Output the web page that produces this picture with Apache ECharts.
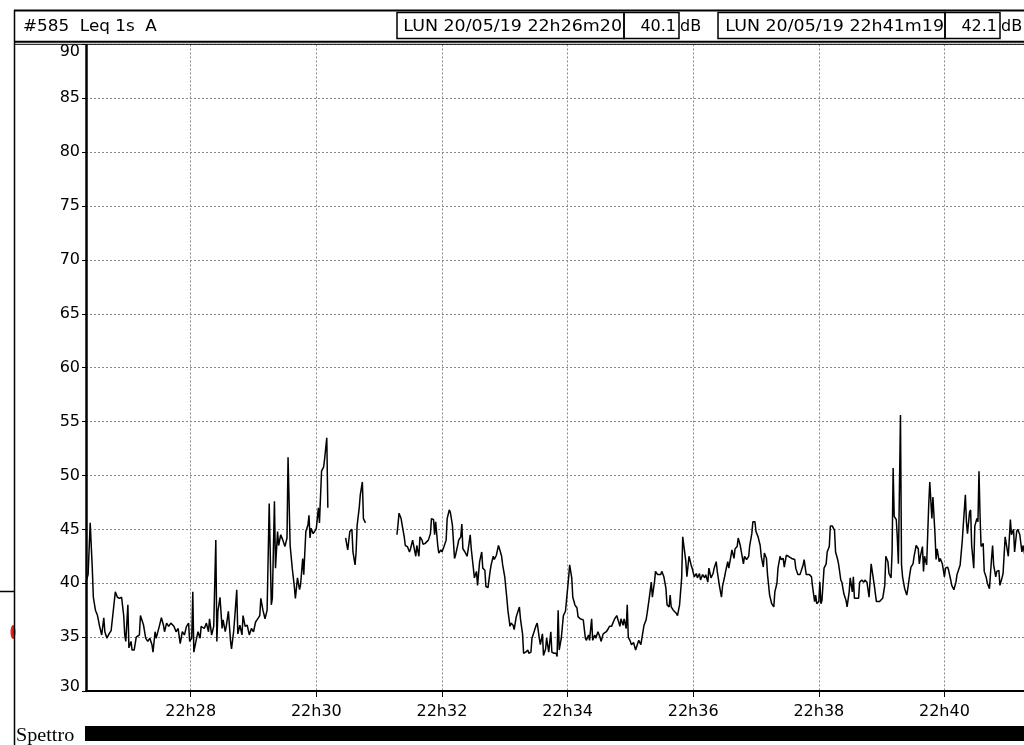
<!DOCTYPE html>
<html>
<head>
<meta charset="utf-8">
<script src="https://cdn.jsdelivr.net/npm/echarts@6/dist/echarts.min.js"></script>
<style>
html,body{margin:0;padding:0;background:#fff;}
#chart{width:1024px;height:745px;}
</style>
</head>
<body>
<div id="chart"></div>
<script>
// seconds elapsed since 22h26m20 (1 s Leq samples)
const secs = [
0,2,4,6,7,9,11,13,15,17,18,20,22,24,26,28,30,32,34,36,37,38,40,41,43,44,46,48,51,52,55,57,59,61,63,64,66,67,70,72,74,75,77,79,81,84,86,88,90,92,94,96,98,99,101,102,103,105,107,109,110,113,115,117,118,120,122,124,125,126,128,130,131,133,134,136,138,139,141,142,144,145,147,149,150,152,154,156,158,160,162,164,166,167,169,171,173,175,177,178,180,
181,183,184,186,188,190,192,193,195,197,199,200,202,204,205,207,208,210,212,213,214,215,217,219,220,222,223,225,227,228,230,231,232,
248,250,252,254,255,257,258,259,261,262,264,265,267,268,
297,298,299,301,302,304,305,307,309,310,312,313,315,316,318,319,321,322,324,325,327,329,330,332,333,334,336,337,339,340,342,344,345,347,348,350,352,353,355,356,
358,359,360,362,364,365,367,368,370,371,373,374,376,378,379,381,382,384,386,387,389,390,392,394,395,397,398,400,402,403,405,406,408,409,411,413,414,415,417,418,420,422,423,425,426,428,430,431,433,434,436,437,439,440,442,444,445,447,449,450,451,452,454,456,458,459,461,462,464,465,467,469,470,472,473,475,477,478,480,481,483,484,486,487,489,491,492,494,495,497,499,500,502,503,505,507,508,510,511,513,514,516,517,518,520,521,523,525,527,528,530,
533,535,536,538,540,541,543,544,546,547,549,550,552,554,555,557,558,559,561,562,564,565,567,569,570,571,573,574,575,576,578,579,581,583,584,586,587,589,591,592,594,595,597,599,600,602,603,605,607,608,610,611,613,614,616,617,619,620,622,623,625,626,628,629,631,633,634,636,637,639,640,642,644,645,647,648,650,651,653,655,657,658,660,661,663,664,666,667,669,671,672,674,675,677,678,680,682,683,685,686,688,689,691,693,694,696,697,698,700,701,702,703,705,707,708,
710,711,713,715,716,718,719,721,722,724,726,727,729,730,732,733,734,736,738,739,741,743,744,746,747,748,750,751,753,755,756,758,759,761,763,764,766,767,769,770,771,772,774,775,776,777,778,779,780,782,784,785,787,788,790,791,793,795,796,797,799,800,801,803,804,805,806,808,809,811,812,813,815,816,818,820,821,823,824,826,827,829,831,832,834,835,837,838,840,841,842,844,845,846,848,849,851,852,853,854,855,857,858,860,861,863,865,866,867,869,870,872,873,875,876,878,879,881,882,883,884,886,887,889,890,892,894,895,897,899
];
// Leq 1s A, dB (null = no data)
const levels = [
40.1,40.8,45.6,41.4,38.7,37.5,37.0,36.0,35.2,36.8,35.5,34.9,35.3,35.6,37.4,39.2,38.7,38.6,38.7,37.0,35.2,34.6,38.0,34.0,34.6,33.8,33.8,35.0,35.2,37.0,36.1,34.9,34.6,34.9,34.3,33.6,35.5,34.9,36.0,36.8,36.1,35.5,36.3,36.0,36.3,36.0,35.5,35.8,34.4,35.5,35.2,36.0,36.3,34.6,34.9,39.2,33.6,34.6,35.5,34.9,36.0,35.8,36.3,35.5,36.7,35.2,36.0,44.0,34.6,37.4,38.7,35.8,36.6,35.5,36.0,37.4,34.7,33.9,35.5,36.7,39.4,35.3,36.1,35.2,37.0,36.0,36.1,35.2,35.8,35.5,36.4,36.7,37.0,38.6,37.5,36.7,37.5,47.4,38.0,38.6,47.6,
41.4,44.8,43.5,44.5,44.0,43.4,44.2,51.7,43.5,41.4,39.7,38.6,40.5,39.4,39.9,42.3,40.8,44.8,45.4,46.3,44.2,45.1,44.6,44.9,45.1,47.0,45.6,50.4,50.8,51.6,53.5,47.0,null,
44.2,43.1,44.8,45.0,42.9,41.7,42.9,45.4,47.0,48.2,49.4,46.0,45.6,null,
44.5,45.4,46.5,46.0,45.4,44.3,43.5,43.4,42.9,43.2,44.0,43.9,42.5,43.5,42.5,44.3,44.0,43.6,43.7,43.6,44.0,44.6,46.0,45.9,44.5,45.7,43.5,42.8,43.1,42.9,43.4,44.0,46.0,46.8,46.6,45.4,42.3,42.6,43.5,44.0,
44.3,45.5,43.2,42.9,42.5,43.1,44.5,43.2,41.4,40.5,41.1,39.8,42.0,42.9,41.4,41.2,39.7,39.6,41.1,41.7,42.5,42.2,42.6,43.5,43.2,42.5,41.7,40.6,38.6,37.5,36.0,36.3,36.1,35.7,36.9,37.5,37.8,36.7,35.3,33.5,33.6,33.8,33.5,33.6,34.9,35.5,36.1,36.3,34.9,34.3,35.3,33.3,33.9,34.9,33.6,35.5,33.6,33.5,33.5,33.2,37.5,33.8,34.9,37.0,37.4,37.4,40.5,41.7,40.5,38.7,38.0,37.7,36.9,36.7,36.6,36.6,34.9,34.7,35.2,34.7,36.7,34.7,35.2,34.9,35.5,35.0,34.6,35.3,35.2,35.5,35.8,36.0,36.0,36.1,36.7,37.0,37.0,36.0,36.7,36.1,36.7,35.8,38.0,35.0,34.6,34.3,34.5,33.8,34.4,34.7,34.3,
36.1,36.6,37.2,38.6,40.1,38.7,40.1,41.1,40.8,40.9,40.8,41.1,40.6,39.5,38.0,37.8,38.9,37.8,37.5,37.4,37.2,37.0,38.0,40.5,44.3,44.2,42.0,40.6,40.6,42.5,41.7,41.4,40.6,40.9,40.5,40.9,40.3,40.8,40.5,40.8,40.1,41.4,40.5,40.9,41.4,42.0,41.1,39.8,38.7,39.7,40.6,41.1,42.0,41.4,42.5,43.1,42.3,43.2,43.4,44.2,43.5,42.9,41.8,42.5,42.2,42.5,43.5,44.6,45.7,45.7,44.8,44.3,43.5,42.5,41.5,42.8,42.3,40.8,38.9,38.1,37.8,39.2,40.0,41.4,42.5,42.2,42.3,41.5,42.6,42.5,42.4,42.3,42.3,42.2,41.4,40.8,40.8,40.9,41.7,42.2,40.8,40.9,40.8,40.6,39.7,38.3,38.9,38.1,38.3,40.1,38.1,38.4,41.4,41.8,42.9,
43.4,45.3,45.3,44.9,42.9,42.2,41.7,40.3,40.1,39.0,38.4,37.8,39.2,40.5,39.2,40.6,38.6,38.6,38.6,40.1,40.3,40.1,40.3,40.1,39.4,38.7,41.8,41.7,39.8,38.3,38.2,38.3,38.3,38.6,39.8,42.5,42.0,40.9,40.5,42.9,50.7,46.2,45.9,44.2,41.8,41.7,55.6,41.7,40.6,39.5,38.9,39.5,40.9,41.5,41.8,42.5,43.5,43.2,41.8,42.5,43.4,41.1,42.5,41.7,41.8,47.3,49.4,46.0,48.0,44.5,42.2,43.2,42.0,42.3,41.8,40.6,41.4,41.5,41.2,40.3,39.8,39.4,40.1,40.8,41.4,41.7,43.9,45.4,48.2,45.7,44.6,46.6,46.8,43.5,41.4,45.3,46.0,45.7,50.4,46.3,43.4,43.7,41.1,40.5,40.0,39.5,42.3,43.5,41.7,40.6,41.1,41.2,39.8,40.5,40.9,44.3,44.3,42.5,42.5,45.9,44.5,45.0,42.9,44.8,45.0,44.5,42.9,43.5,42.5,42.1
];
// x-axis tick positions (s since 22h26m20) and their labels
const tickSecs = [100, 220, 340, 460, 580, 700, 820];
const tickLabels = ['22h28', '22h30', '22h32', '22h34', '22h36', '22h38', '22h40'];
// header texts
const headerTitle = '#585  Leq 1s  A';
const cursor1 = 'LUN 20/05/19 22h26m20', cursor1Val = '40.1';
const cursor2 = 'LUN 20/05/19 22h41m19', cursor2Val = '42.1';
const unit = 'dB';

const data = secs.map((s, i) => [s, levels[i]]);
const FONT = 'DejaVu Sans';
const gridLine = {show: true, lineStyle: {color: '#8a8a8a', width: 1, type: [2, 2]}};

const chart = echarts.init(document.getElementById('chart'), null, {renderer: 'canvas'});
const blk = {stroke: '#000', fill: null, lineWidth: 1.5};
chart.setOption({
  animation: false,
  backgroundColor: '#fff',
  grid: {left: 86, right: 0, top: 44.4, bottom: 54, containLabel: false},
  xAxis: {
    type: 'value', min: 0, max: 896,
    axisLine: {show: true, onZero: false, lineStyle: {color: '#000', width: 2}},
    axisTick: {show: true, customValues: tickSecs, length: 6, lineStyle: {color: '#000', width: 1}},
    axisLabel: {customValues: tickSecs, color: '#000', fontFamily: FONT, fontSize: 16, margin: 13,
      formatter: v => tickLabels[tickSecs.indexOf(v)] || ''},
    splitLine: gridLine
  },
  yAxis: {
    type: 'value', min: 30, max: 90, interval: 5,
    axisLine: {show: true, lineStyle: {color: '#000', width: 2.5}},
    axisTick: {show: true, length: 4, lineStyle: {color: '#000', width: 1}},
    axisLabel: {color: '#000', fontFamily: FONT, fontSize: 16, margin: 6,
      formatter: v => v === 90 ? '{top|90}' : (v === 30 ? '{bot|30}' : String(v)),
      rich: {
        top: {color: '#000', fontFamily: FONT, fontSize: 16, padding: [14, 0, 0, 0]},
        bot: {color: '#000', fontFamily: FONT, fontSize: 16, padding: [0, 0, 9, 0]}
      }},
    splitLine: gridLine
  },
  series: [{
    type: 'line', data: data, showSymbol: false, symbol: 'none', connectNulls: false,
    lineStyle: {color: '#000', width: 1.5}, clip: true, z: 5
  }],
  graphic: [
    {type: 'rect', z: 100, shape: {x: 14, y: 9, width: 1010, height: 35}, style: {fill: '#fff', stroke: null}},
    {type: 'line', z: 101, shape: {x1: 14, y1: 10.5, x2: 1024, y2: 10.5}, style: {stroke: '#000', lineWidth: 2}},
    {type: 'line', z: 101, shape: {x1: 14, y1: 41.7, x2: 1024, y2: 41.7}, style: {stroke: '#000', lineWidth: 2}},
    {type: 'line', z: 101, shape: {x1: 14, y1: 44.3, x2: 1024, y2: 44.3}, style: {stroke: '#000', lineWidth: 1}},
    {type: 'line', z: 101, shape: {x1: 14.5, y1: 10, x2: 14.5, y2: 745}, style: {stroke: '#000', lineWidth: 1.5}},
    {type: 'line', z: 101, shape: {x1: 0, y1: 591.5, x2: 14, y2: 591.5}, style: {stroke: '#000', lineWidth: 1.5}},
    {type: 'ellipse', z: 100, shape: {cx: 13, cy: 632, rx: 2.5, ry: 7}, style: {fill: '#e02020', stroke: null}},
    {type: 'rect', z: 101, shape: {x: 397, y: 12.5, width: 227, height: 26}, style: blk},
    {type: 'rect', z: 101, shape: {x: 624, y: 12.5, width: 55, height: 26}, style: blk},
    {type: 'rect', z: 101, shape: {x: 718, y: 12.5, width: 227, height: 26}, style: blk},
    {type: 'rect', z: 101, shape: {x: 945, y: 12.5, width: 55, height: 26}, style: blk},
    {type: 'text', z: 102, x: 23, y: 27, scaleX: 1.05, style: {text: headerTitle, fill: '#000', font: '16px "DejaVu Sans"', align: 'left', verticalAlign: 'middle'}},
    {type: 'text', z: 102, x: 622, y: 27, scaleX: 1.09, style: {text: cursor1, fill: '#000', font: '16px "DejaVu Sans"', align: 'right', verticalAlign: 'middle'}},
    {type: 'text', z: 102, x: 676, y: 27, style: {text: cursor1Val, fill: '#000', font: '16px "DejaVu Sans"', align: 'right', verticalAlign: 'middle'}},
    {type: 'text', z: 102, x: 680, y: 27, style: {text: unit, fill: '#000', font: '16px "DejaVu Sans"', align: 'left', verticalAlign: 'middle'}},
    {type: 'text', z: 102, x: 944, y: 27, scaleX: 1.09, style: {text: cursor2, fill: '#000', font: '16px "DejaVu Sans"', align: 'right', verticalAlign: 'middle'}},
    {type: 'text', z: 102, x: 997, y: 27, style: {text: cursor2Val, fill: '#000', font: '16px "DejaVu Sans"', align: 'right', verticalAlign: 'middle'}},
    {type: 'text', z: 102, x: 1001, y: 27, style: {text: unit, fill: '#000', font: '16px "DejaVu Sans"', align: 'left', verticalAlign: 'middle'}},
    {type: 'text', z: 102, x: 16, y: 736, scaleX: 1.12, style: {text: 'Spettro', fill: '#000', font: '18px "Liberation Serif"', align: 'left', verticalAlign: 'middle'}},
    {type: 'rect', z: 101, shape: {x: 85, y: 726, width: 939, height: 15}, style: {fill: '#000', stroke: null}}
  ]
});
</script>
</body>
</html>
